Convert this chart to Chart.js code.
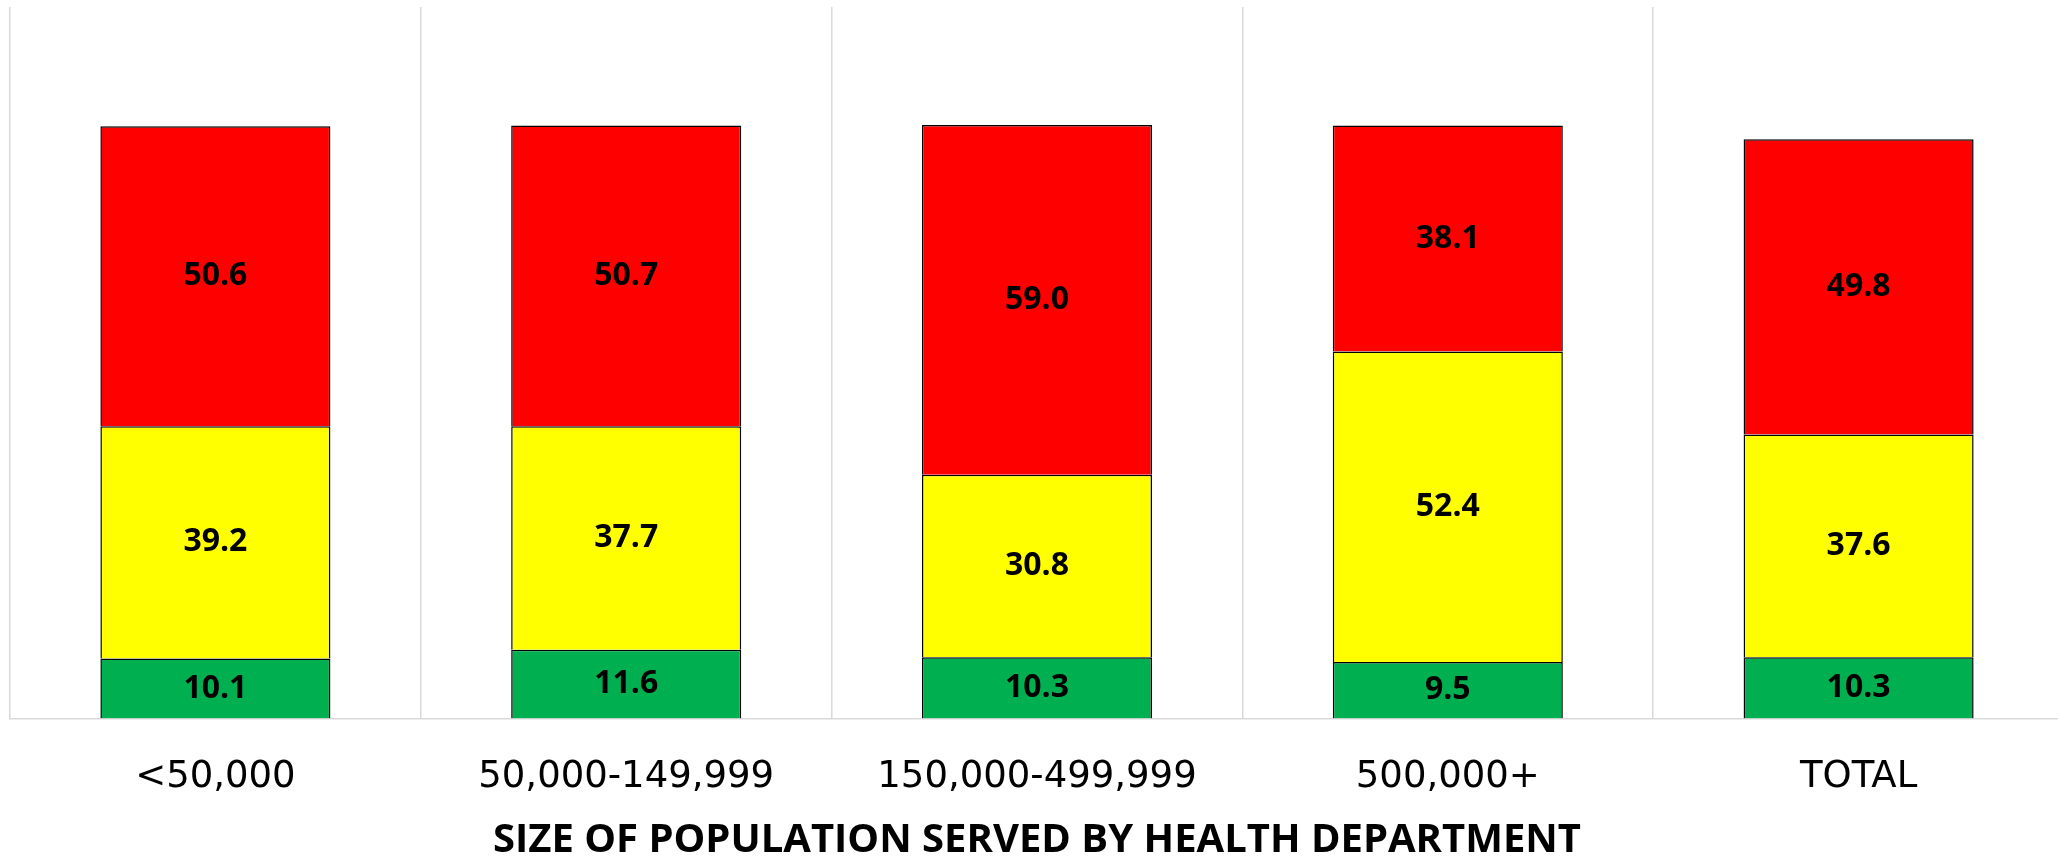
<!DOCTYPE html>
<html>
<head>
<meta charset="utf-8">
<script src="https://cdn.jsdelivr.net/npm/chart.js@4"></script>
<style>
  html, body { margin: 0; padding: 0; background: #fff; overflow: hidden; }
  #wrap { position: relative; width: 2064px; height: 859px; }
</style>
</head>
<body>
<div id="wrap"><canvas id="c"></canvas></div>
<script>
const categories = ['<50,000', '50,000-149,999', '150,000-499,999', '500,000+', 'TOTAL'];
const greenValues = [10.1, 11.6, 10.3, 9.5, 10.3];
const yellowValues = [39.2, 37.7, 30.8, 52.4, 37.6];
const redValues = [50.6, 50.7, 59.0, 38.1, 49.8];
const axisTitle = 'SIZE OF POPULATION SERVED BY HEALTH DEPARTMENT';

const labelPlugin = {
  id: 'segLabels',
  afterDatasetsDraw(chart) {
    const ctx = chart.ctx;
    ctx.save();
    ctx.font = 'bold 32px "Open Sans"';
    ctx.fillStyle = '#000';
    ctx.textAlign = 'center';
    ctx.textBaseline = 'middle';
    chart.data.datasets.forEach((ds, i) => {
      const meta = chart.getDatasetMeta(i);
      meta.data.forEach((el, j) => {
        const v = ds.data[j];
        ctx.fillText(v.toFixed(1), el.x, (el.y + el.base) / 2);
      });
    });
    ctx.restore();
  }
};

const common = { borderColor: '#000000', borderWidth: 1.5, barPercentage: 0.56, categoryPercentage: 1.0 };

new Chart(document.getElementById('c'), {
  type: 'bar',
  data: {
    labels: categories,
    datasets: [
      Object.assign({ label: 'Green', data: greenValues, backgroundColor: '#00B050' }, common),
      Object.assign({ label: 'Yellow', data: yellowValues, backgroundColor: '#FFFF00' }, common),
      Object.assign({ label: 'Red', data: redValues, backgroundColor: '#FF0000' }, common)
    ]
  },
  options: {
    responsive: true,
    maintainAspectRatio: false,
    animation: false,
    layout: { padding: { top: 7, left: 10, right: 0, bottom: 0 } },
    plugins: { legend: { display: false }, tooltip: { enabled: false } },
    scales: {
      x: {
        stacked: true,
        offset: true,
        grid: { display: true, offset: true, color: '#D9D9D9', lineWidth: 1.5, drawTicks: false },
        border: { display: true, color: '#D9D9D9', width: 1.5 },
        ticks: { color: '#000', font: { family: '"DejaVu Sans"', size: 37, lineHeight: 0.8 }, padding: 44.5, maxRotation: 0, autoSkip: false },
        title: { display: true, text: axisTitle, color: '#000', font: { family: '"Open Sans"', size: 40, weight: 'bold', lineHeight: 0.9 }, padding: { top: -14, bottom: 0 } }
      },
      y: {
        stacked: true,
        display: false,
        min: 0,
        max: 120
      }
    }
  },
  plugins: [labelPlugin]
});
</script>
</body>
</html>
